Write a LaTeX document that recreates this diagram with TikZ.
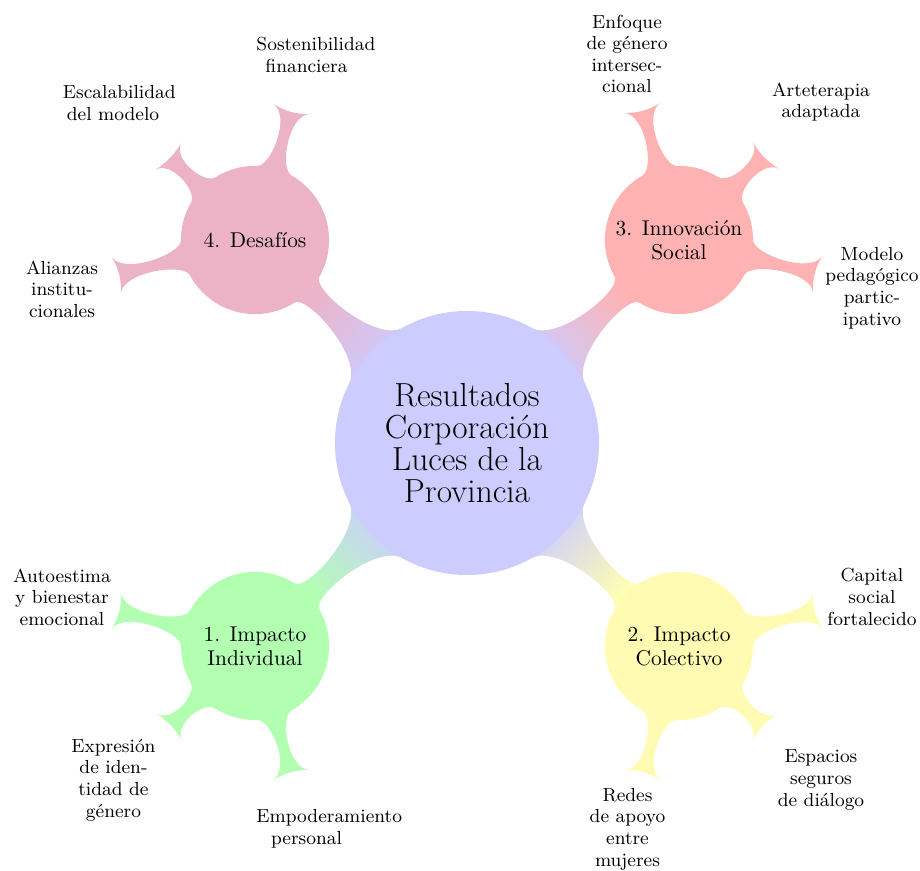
\documentclass[tikz,border=0pt]{standalone}
\usetikzlibrary{calc,backgrounds}
% tapered connector between two named nodes
% #1 start node, #2 end node, #3 fill options
\newcommand\mmbar[3]{%
  \coordinate (p1) at ($(#1)!\bRa!\bAa:(#2)$);
  \coordinate (p2) at ($(#1)!\bRa!-\bAa:(#2)$);
  \coordinate (q1) at ($(#2)!\bRb!-\bAb:(#1)$);
  \coordinate (q2) at ($(#2)!\bRb!\bAb:(#1)$);
  \path[#3] (p1) .. controls ($(p1)!\bKa!90:(#1)$) and ($(q1)!\bKb!-90:(#2)$) .. (q1)
     .. controls ($(q1)!\bHb!-90:(#2)$) and ($(q2)!\bHb!90:(#2)$) .. (q2)
     .. controls ($(q2)!\bKb!90:(#2)$) and ($(p2)!\bKa!-90:(#1)$) .. (p2) -- cycle;
}
\newcommand\setrootbar{\def\bRa{62.88pt}\def\bAa{17}\def\bKa{14.29pt}%
  \def\bRb{35.28pt}\def\bAb{14}\def\bKb{7.14pt}\def\bHb{5.78pt}}
\newcommand\setaxisleaf{\def\bRa{35.28pt}\def\bAa{14}\def\bKa{6.67pt}%
  \def\bRb{28.1pt}\def\bAb{18.8}\def\bKb{10.48pt}\def\bHb{6.2pt}}
\newcommand\setdiagleaf{\def\bRa{35.28pt}\def\bAa{14}\def\bKa{6.67pt}%
  \def\bRb{37.7pt}\def\bAb{13.7}\def\bKb{8.57pt}\def\bHb{6.04pt}}
\begin{document}
\begin{tikzpicture}[x=0.016736cm, y=0.016736cm,
  rootc/.style={circle, fill=blue!20, minimum size=4.42cm, inner sep=0pt, align=center, text=black,
    font=\fontsize{15.9}{15.1}\selectfont},
  branch/.style={circle, minimum size=2.48cm, inner sep=0pt, align=center, text=black,
    font=\fontsize{10.2}{11.5}\selectfont},
  leaf/.style={rectangle, fill=none, minimum size=1.91cm, inner sep=0pt, align=center, text=black,
    font=\fontsize{9}{10.3}\selectfont},
  grad/.style n args={3}{top color=#2, bottom color=#1, shading angle=#3}]
\useasboundingbox (0,0) rectangle (920,871);
% root and branches
\node[rootc] (root) at (467,428) {Resultados\\Corporación\\Luces de la\\Provincia};
\node[branch, fill=green!30]  (c1) at (255,225) {1. Impacto\\Individual};
\node[branch, fill=yellow!30] (c2) at (679,225) {2. Impacto\\Colectivo};
\node[branch, fill=red!30]    (c3) at (679,631) {3. Innovación\\Social};
\node[branch, fill=purple!30] (c4) at (255,631) {4. Desafíos};
% leaves
\node[leaf] (g1a) at (62,274)    {Autoestima\\y bienestar\\emocional};
\node[leaf] (g1b) at (113.5,91)  {Expresión\\de iden-\\tidad de\\género};
\node[leaf] (g1c) at (306.5,42)  {\makebox[1.674cm][l]{Empoderamiento}\\personal};
\node[leaf] (g2a) at (872,274)   {Capital\\social\\fortalecido};
\node[leaf] (g2b) at (821,91)    {Espacios\\seguros\\de diálogo};
\node[leaf] (g2c) at (627.5,42)  {Redes\\de apoyo\\entre\\mujeres};
\node[leaf] (g3a) at (627,817)   {Enfoque\\de género\\intersec-\\cional};
\node[leaf] (g3b) at (821,769)   {Arteterapia\\adaptada};
\node[leaf] (g3c) at (872,583)   {Modelo\\pedagógico\\partic-\\ipativo};
\node[leaf] (g4a) at (306.5,816) {\makebox[1.674cm][l]{Sostenibilidad}\\financiera};
\node[leaf] (g4b) at (113,768)   {\makebox[1.674cm][l]{Escalabilidad}\\del modelo};
\node[leaf] (g4c) at (62,582)    {Alianzas\\institu-\\cionales};
\begin{scope}[on background layer]
\setrootbar
\mmbar{root}{c1}{grad={blue!20}{green!30}{133.8}}
\mmbar{root}{c2}{grad={blue!20}{yellow!30}{-133.8}}
\mmbar{root}{c3}{grad={blue!20}{red!30}{-46.2}}
\mmbar{root}{c4}{grad={blue!20}{purple!30}{46.2}}
\setaxisleaf
\mmbar{c1}{g1a}{fill=green!30}
\mmbar{c1}{g1c}{fill=green!30}
\mmbar{c2}{g2a}{fill=yellow!30}
\mmbar{c2}{g2c}{fill=yellow!30}
\mmbar{c3}{g3a}{fill=red!30}
\mmbar{c3}{g3c}{fill=red!30}
\mmbar{c4}{g4a}{fill=purple!30}
\mmbar{c4}{g4c}{fill=purple!30}
\setdiagleaf
\mmbar{c1}{g1b}{fill=green!30}
\mmbar{c2}{g2b}{fill=yellow!30}
\mmbar{c3}{g3b}{fill=red!30}
\mmbar{c4}{g4b}{fill=purple!30}
\end{scope}
\end{tikzpicture}
\end{document}
